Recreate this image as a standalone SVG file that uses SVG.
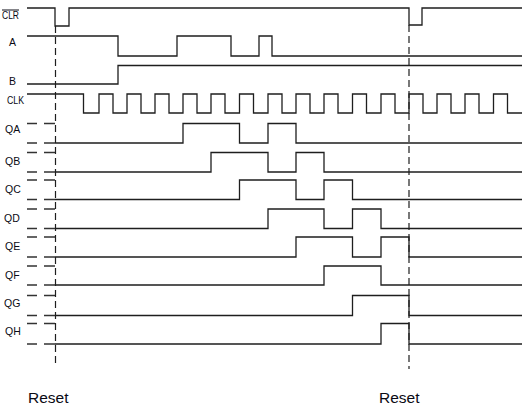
<svg xmlns="http://www.w3.org/2000/svg" width="527" height="411" viewBox="0 0 527 411">
<style>
.w{fill:none;stroke:#1e1e1e;stroke-width:1.3}
.d{fill:none;stroke:#333;stroke-width:1.3}
.r{fill:none;stroke:#1e1e1e;stroke-width:1.2;stroke-dasharray:7 4}
.l{font-family:"Liberation Sans",Arial,sans-serif;font-size:10.5px;fill:#0a0a14}
.big{font-family:"Liberation Sans",Arial,sans-serif;font-size:15.5px;fill:#0a0a14}
</style>
<rect width="527" height="411" fill="#fff"/>
<g id="clr">
<text class="l" x="2" y="18.5" textLength="17" lengthAdjust="spacingAndGlyphs">CLR</text>
<line x1="2" y1="10" x2="19" y2="10" stroke="#0a0a14" stroke-width="1"/>
<path class="w" d="M27,8 H55 V26 H69 V8 H409 V25 H422 V8 H522"/>
</g>
<g id="a">
<text class="l" x="9" y="45.7">A</text>
<path class="w" d="M27,36 H118 V56 H177 V36 H231 V56 H259 V36 H272 V56 H522"/>
</g>
<g id="b">
<text class="l" x="9" y="85">B</text>
<path class="w" d="M27,84 H118 V65.5 H522"/>
</g>
<g id="clk">
<text class="l" x="7" y="104" textLength="17" lengthAdjust="spacingAndGlyphs">CLK</text>
<path class="w" d="M27,94 H83.5 V113 H99 V94 H113 V113 H127 V94 H141 V113 H155 V94 H169 V113 H183 V94 H197 V113 H211 V94 H225 V113 H239.5 V94 H253.5 V113 H268 V94 H282 V113 H296 V94 H310 V113 H324 V94 H338 V113 H352.5 V94 H366.5 V113 H381 V94 H395 V113 H409 V94 H423 V113 H437 V94 H451 V113 H465 V94 H479 V113 H493.5 V94 H507.5 V113 H522"/>
</g>
<g id="qa">
<text class="l" x="5" y="133">QA</text>
<path class="d" d="M27,123.5 H37 M44,123.5 H55 M27,143 H37 M44,143 H55"/>
<path class="w" d="M55,143 H183 V123.5 H239.5 V143 H268 V123.5 H296 V143 H522"/>
</g>
<g id="qb">
<text class="l" x="5" y="164.5">QB</text>
<path class="d" d="M27,152.5 H37 M44,152.5 H55 M27,172 H37 M44,172 H55"/>
<path class="w" d="M55,172 H211 V152.5 H268 V172 H296 V152.5 H324 V172 H522"/>
</g>
<g id="qc">
<text class="l" x="5" y="193.3">QC</text>
<path class="d" d="M27,180 H37 M44,180 H55 M27,199.5 H37 M44,199.5 H55"/>
<path class="w" d="M55,199.5 H239.5 V180 H296 V199.5 H324 V180 H352.5 V199.5 H522"/>
</g>
<g id="qd">
<text class="l" x="4" y="221.7">QD</text>
<path class="d" d="M27,209 H37 M44,209 H55 M27,228.5 H37 M44,228.5 H55"/>
<path class="w" d="M55,228.5 H268 V209 H324 V228.5 H352.5 V209 H381 V228.5 H522"/>
</g>
<g id="qe">
<text class="l" x="5" y="250">QE</text>
<path class="d" d="M27,237 H37 M44,237 H55 M27,257 H37 M44,257 H55"/>
<path class="w" d="M55,257 H296 V237 H352.5 V257 H381 V237 H409 V257 H522"/>
</g>
<g id="qf">
<text class="l" x="5" y="279">QF</text>
<path class="d" d="M27,266 H37 M44,266 H55 M27,285 H37 M44,285 H55"/>
<path class="w" d="M55,285 H324 V266 H381 V285 H522"/>
</g>
<g id="qg">
<text class="l" x="4" y="306.7">QG</text>
<path class="d" d="M27,295.5 H37 M44,295.5 H55 M27,315.5 H37 M44,315.5 H55"/>
<path class="w" d="M55,315.5 H352.5 V295.5 H409 V315.5 H522"/>
</g>
<g id="qh">
<text class="l" x="5" y="335">QH</text>
<path class="d" d="M27,323.5 H37 M44,323.5 H55 M27,344 H37 M44,344 H55"/>
<path class="w" d="M55,344 H381 V323.5 H409 V344 H522"/>
</g>
<g id="connectors">
<line class="r" x1="55.5" y1="26" x2="55.5" y2="367"/>
<line class="r" x1="409" y1="25" x2="409" y2="369"/>
</g>
<g id="reset1"><text class="big" x="28" y="403">Reset</text></g>
<g id="reset2"><text class="big" x="379" y="403">Reset</text></g>
</svg>
